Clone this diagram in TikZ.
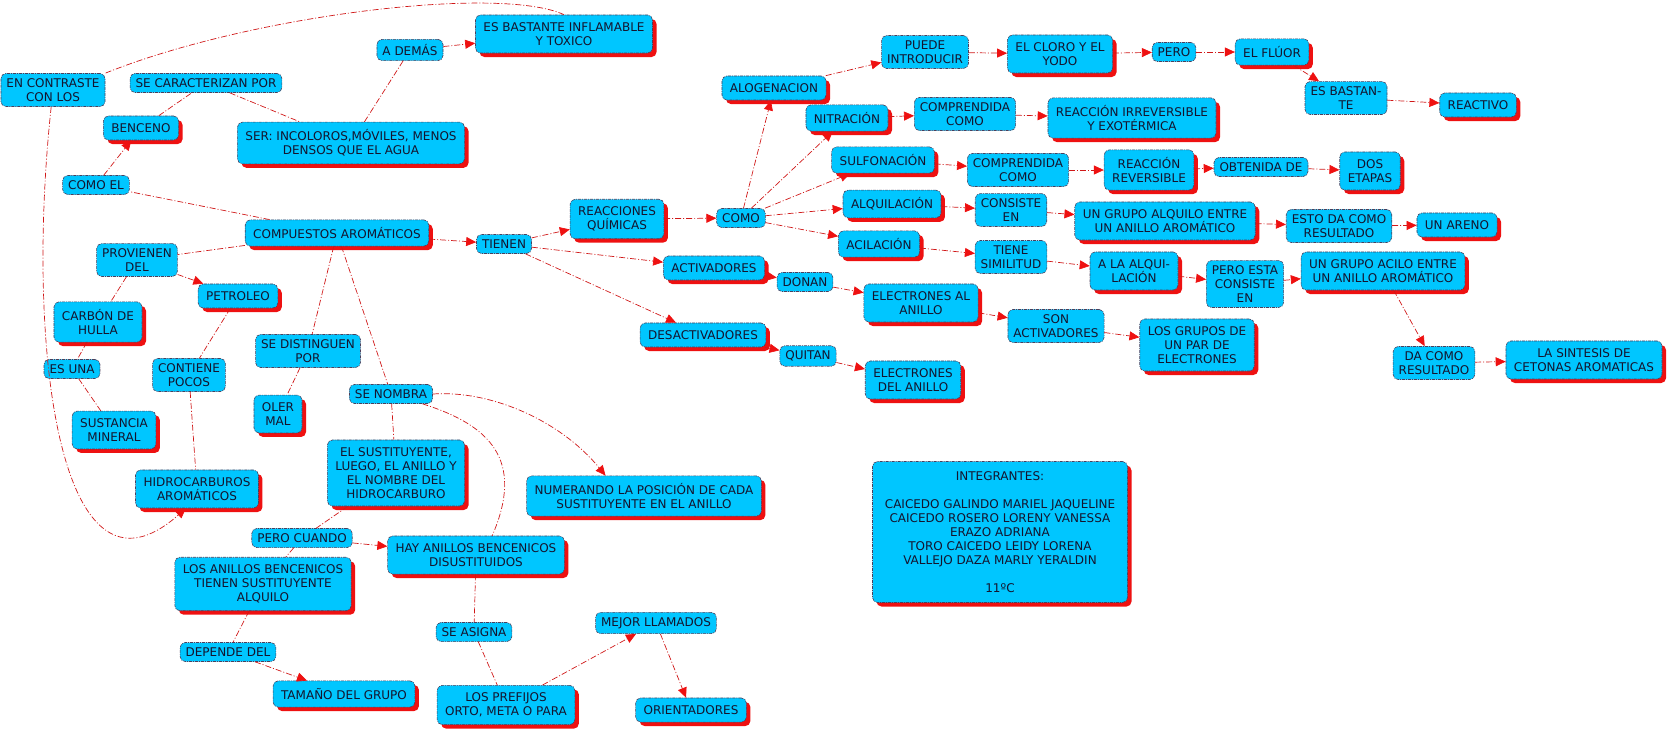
\documentclass[tikz,border=0pt]{standalone}
\usepackage{fontspec}
\setmainfont{DejaVu Sans}
\usetikzlibrary{arrows.meta, positioning, shadows}
\definecolor{mapCyan}{HTML}{00C6FF}
\definecolor{mapRed}{HTML}{EE1111}
\definecolor{mapLine}{HTML}{D01818}
\definecolor{mapBorder}{HTML}{4A3F5C}
\definecolor{mapText}{HTML}{14142E}
\tikzset{
  boxC/.style={rectangle, rounded corners=5pt, draw=mapBorder, fill=mapCyan,
               text=mapText, align=center, line width=0.6pt,
               dash pattern=on 3pt off 1pt on 1pt off 1pt,
               inner xsep=8pt, inner ysep=7.5pt, minimum height=24pt,
               general shadow={fill=mapRed, shadow xshift=4pt, shadow yshift=-4pt}},
  boxL/.style={rectangle, rounded corners=5pt, draw=mapBorder, fill=mapCyan,
               text=mapText, align=center, line width=0.6pt,
               dash pattern=on 3pt off 1pt on 1pt off 1pt,
               inner xsep=5.5pt, inner ysep=5pt, minimum height=19pt},
  lineR/.style={mapLine, line width=0.7pt, dash pattern=on 6pt off 2pt on 1pt off 2pt},
  arrowR/.style={lineR, -{Triangle[length=10pt, width=9pt, color=mapRed]}},
}
\begin{document}
\begin{tikzpicture}[x=1pt, y=-1pt, font=\fontsize{12}{14}\selectfont]
    \useasboundingbox (0,0) rectangle (1670,732);
    \node[boxL] (encontraste) at (53,90) {EN CONTRASTE\\CON LOS};
    \node[boxL] (secaract) at (206,83) {SE CARACTERIZAN POR};
    \node[boxC] (benceno) at (141,128) {BENCENO};
    \node[boxL] (ademas) at (410,50) {A DEMÁS};
    \node[boxC] (esbastante) at (564,34) {ES BASTANTE INFLAMABLE\\Y TOXICO};
    \node[boxC] (ser) at (351,143) {SER: INCOLOROS,MÓVILES, MENOS\\DENSOS QUE EL AGUA};
    \node[boxL] (comoel) at (96,185) {COMO EL};
    \node[boxC] (compuestos) at (337,233) {COMPUESTOS AROMÁTICOS};
    \node[boxL] (tienen) at (504,244) {TIENEN};
    \node[boxL] (provienen) at (137,260) {PROVIENEN\\DEL};
    \node[boxC] (petroleo) at (238,296) {PETROLEO};
    \node[boxC] (carbon) at (98,322) {CARBÓN DE\\HULLA};
    \node[boxL] (esuna) at (72,369) {ES UNA};
    \node[boxC] (sustancia) at (114,430) {SUSTANCIA\\MINERAL};
    \node[boxL] (contiene) at (189,375) {CONTIENE\\POCOS};
    \node[boxL] (sedistinguen) at (308,351) {SE DISTINGUEN\\POR};
    \node[boxC] (oler) at (278,414) {OLER\\MAL};
    \node[boxL] (senombra) at (391,394) {SE NOMBRA};
    \node[boxC] (sustituyente) at (396,473) {EL SUSTITUYENTE,\\LUEGO, EL ANILLO Y\\EL NOMBRE DEL\\HIDROCARBURO};
    \node[boxC] (hidro) at (197,489) {HIDROCARBUROS\\AROMÁTICOS};
    \node[boxC] (numerando) at (644,496) {NUMERANDO LA POSICIÓN DE CADA\\SUSTITUYENTE EN EL ANILLO};
    \node[boxL] (perocuando) at (302,538) {PERO CUANDO};
    \node[boxC] (hayanillos) at (476,555) {HAY ANILLOS BENCENICOS\\DISUSTITUIDOS};
    \node[boxC] (losanillos) at (263,584) {LOS ANILLOS BENCENICOS\\TIENEN SUSTITUYENTE\\ALQUILO};
    \node[boxL] (dependedel) at (228,652) {DEPENDE DEL};
    \node[boxC] (tamano) at (344,694) {TAMAÑO DEL GRUPO};
    \node[boxL] (seasigna) at (474,632) {SE ASIGNA};
    \node[boxC] (prefijos) at (506,705) {LOS PREFIJOS\\ORTO, META O PARA};
    \node[boxL] (mejor) at (656,623) {MEJOR LLAMADOS};
    \node[boxC] (orientadores) at (691,710) {ORIENTADORES};
    \node[boxC] (reacciones) at (617,219) {REACCIONES\\QUÍMICAS};
    \node[boxL] (como) at (741,218) {COMO};
    \node[boxC] (alogenacion) at (774,88) {ALOGENACION};
    \node[boxL] (puede) at (925,52) {PUEDE\\INTRODUCIR};
    \node[boxC] (cloro) at (1060,54) {EL CLORO Y EL\\YODO};
    \node[boxL] (pero) at (1174,52) {PERO};
    \node[boxC] (fluor) at (1272,52) {EL FLÚOR};
    \node[boxL] (esbastan) at (1346,98) {ES BASTAN-\\TE};
    \node[boxC] (reactivo) at (1478,105) {REACTIVO};
    \node[boxC] (nitracion) at (847,118) {NITRACIÓN};
    \node[boxL] (comprendidaA) at (965,114) {COMPRENDIDA\\COMO};
    \node[boxC] (irreversible) at (1132,118) {REACCIÓN IRREVERSIBLE\\Y EXOTÉRMICA};
    \node[boxC] (sulfonacion) at (883,160) {SULFONACIÓN};
    \node[boxL] (comprendidaB) at (1018,170) {COMPRENDIDA\\COMO};
    \node[boxC] (reversible) at (1149,170) {REACCIÓN\\REVERSIBLE};
    \node[boxL] (obtenida) at (1261,167) {OBTENIDA DE};
    \node[boxC] (dosetapas) at (1370,171) {DOS\\ETAPAS};
    \node[boxC] (alquilacion) at (892,204) {ALQUILACIÓN};
    \node[boxL] (consiste) at (1011,210) {CONSISTE\\EN};
    \node[boxC] (grupoalquilo) at (1165,221) {UN GRUPO ALQUILO ENTRE\\UN ANILLO AROMÁTICO};
    \node[boxL] (estoda) at (1339,226) {ESTO DA COMO\\RESULTADO};
    \node[boxC] (areno) at (1457,225) {UN ARENO};
    \node[boxC] (acilacion) at (879,244) {ACILACIÓN};
    \node[boxL] (similitud) at (1011,257) {TIENE\\SIMILITUD};
    \node[boxC] (alaalqui) at (1134,271) {A LA ALQUI-\\LACIÓN};
    \node[boxL] (peroesta) at (1245,284) {PERO ESTA\\CONSISTE\\EN};
    \node[boxC] (grupoacilo) at (1383,271) {UN GRUPO ACILO ENTRE\\UN ANILLO AROMÁTICO};
    \node[boxL] (dacomo) at (1434,363) {DA COMO\\RESULTADO};
    \node[boxC] (sintesis) at (1584,360) {LA SINTESIS DE\\CETONAS AROMATICAS};
    \node[boxC] (activadores) at (714,268) {ACTIVADORES};
    \node[boxL] (donan) at (805,282) {DONAN};
    \node[boxC] (electronesal) at (921,303) {ELECTRONES AL\\ANILLO};
    \node[boxL] (sonact) at (1056,326) {SON\\ACTIVADORES};
    \node[boxC] (losgrupos) at (1197,345) {LOS GRUPOS DE\\UN PAR DE\\ELECTRONES};
    \node[boxC] (desactivadores) at (703,335) {DESACTIVADORES};
    \node[boxL] (quitan) at (808,356) {QUITAN};
    \node[boxC] (electronesdel) at (913,380) {ELECTRONES\\DEL ANILLO};
    \node[boxC, minimum width=255pt, minimum height=141pt] (integrantes) at (1000,532)
      {INTEGRANTES:\\[14pt]CAICEDO GALINDO MARIEL JAQUELINE\\CAICEDO ROSERO LORENY VANESSA\\ERAZO ADRIANA\\TORO CAICEDO LEIDY LORENA\\VALLEJO DAZA MARLY YERALDIN\\[14pt]11ºC};
    \draw[lineR] (compuestos) -- (comoel); \draw[arrowR] (comoel) -- (benceno);
    \draw[lineR] (benceno) -- (secaract); \draw[lineR] (secaract) -- (ser);
    \draw[lineR] (ser) -- (ademas); \draw[arrowR] (ademas) -- (esbastante);
    \draw[lineR] (esbastante.north) .. controls (500,-15) and (250,15) .. (encontraste.north east);
    \draw[arrowR] (encontraste) .. controls (25,350) and (60,620) .. (hidro.-120);
    \draw[lineR] (compuestos) -- (provienen); \draw[arrowR] (provienen) -- (petroleo);
    \draw[lineR] (provienen) -- (carbon); \draw[lineR] (carbon) -- (esuna);
    \draw[lineR] (esuna) -- (sustancia); \draw[lineR] (petroleo) -- (contiene);
    \draw[lineR] (contiene) -- (hidro);
    \draw[lineR] (compuestos) -- (sedistinguen); \draw[lineR] (sedistinguen) -- (oler);
    \draw[lineR] (compuestos) -- (senombra); \draw[lineR] (senombra) -- (sustituyente);
    \draw[arrowR] (senombra.east) .. controls (490,390) and (560,420) .. (numerando.152);
    \draw[lineR] (senombra) .. controls (490,425) and (525,460) .. (hayanillos.50);
    \draw[lineR] (sustituyente) -- (perocuando); \draw[arrowR] (perocuando) -- (hayanillos);
    \draw[lineR] (perocuando) -- (losanillos); \draw[lineR] (losanillos) -- (dependedel);
    \draw[arrowR] (dependedel) -- (tamano);
    \draw[lineR] (hayanillos) -- (seasigna); \draw[lineR] (seasigna) -- (prefijos);
    \draw[arrowR] (prefijos) -- (mejor); \draw[arrowR] (mejor) -- (orientadores);
    \draw[arrowR] (compuestos) -- (tienen); \draw[arrowR] (tienen) -- (reacciones);
    \draw[arrowR] (tienen) -- (activadores); \draw[arrowR] (tienen) -- (desactivadores);
    \draw[arrowR] (reacciones) -- (como);
    \draw[arrowR] (como) -- (alogenacion); \draw[arrowR] (como) -- (nitracion);
    \draw[arrowR] (como) -- (sulfonacion); \draw[arrowR] (como) -- (alquilacion);
    \draw[arrowR] (como) -- (acilacion);
    \draw[arrowR] (alogenacion) -- (puede); \draw[arrowR] (puede) -- (cloro);
    \draw[arrowR] (cloro) -- (pero); \draw[arrowR] (pero) -- (fluor);
    \draw[arrowR] (fluor) -- (esbastan); \draw[arrowR] (esbastan) -- (reactivo);
    \draw[arrowR] (nitracion) -- (comprendidaA); \draw[arrowR] (comprendidaA) -- (irreversible);
    \draw[arrowR] (sulfonacion) -- (comprendidaB); \draw[arrowR] (comprendidaB) -- (reversible);
    \draw[arrowR] (reversible) -- (obtenida); \draw[arrowR] (obtenida) -- (dosetapas);
    \draw[arrowR] (alquilacion) -- (consiste); \draw[arrowR] (consiste) -- (grupoalquilo);
    \draw[arrowR] (grupoalquilo) -- (estoda); \draw[arrowR] (estoda) -- (areno);
    \draw[arrowR] (acilacion) -- (similitud); \draw[arrowR] (similitud) -- (alaalqui);
    \draw[arrowR] (alaalqui) -- (peroesta); \draw[arrowR] (peroesta) -- (grupoacilo);
    \draw[arrowR] (grupoacilo) -- (dacomo); \draw[arrowR] (dacomo) -- (sintesis);
    \draw[arrowR] (activadores) -- (donan); \draw[arrowR] (donan) -- (electronesal);
    \draw[arrowR] (electronesal) -- (sonact); \draw[arrowR] (sonact) -- (losgrupos);
    \draw[arrowR] (desactivadores) -- (quitan); \draw[arrowR] (quitan) -- (electronesdel);
  \end{tikzpicture}
\end{document}
